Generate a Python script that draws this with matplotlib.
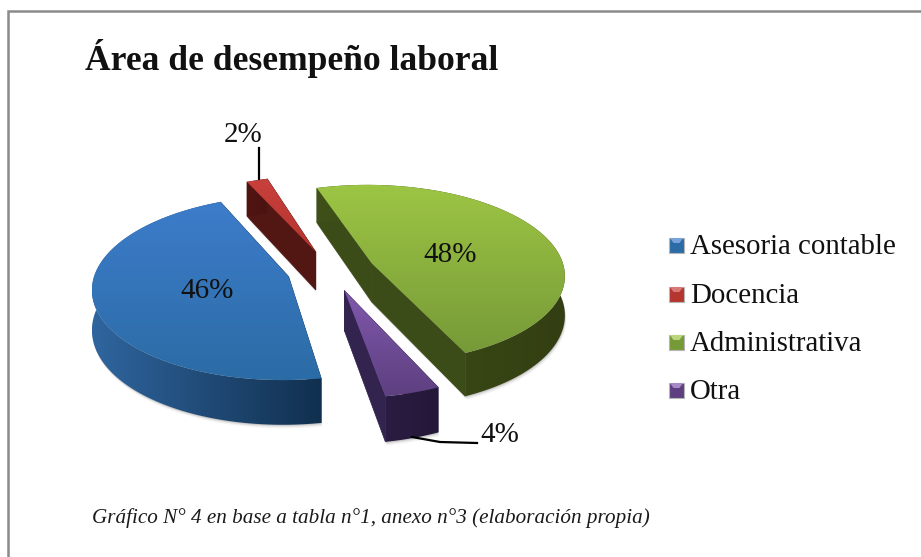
import numpy as np
import matplotlib
matplotlib.use("Agg")
import matplotlib.pyplot as plt
from matplotlib.colors import LinearSegmentedColormap, to_rgb
from matplotlib.patches import Polygon, Rectangle

# datos del grafico
categorias = ["Asesoria contable", "Docencia", "Administrativa", "Otra"]
valores = [46, 2, 48, 4]
titulo = "Área de desempeño laboral"
nota = "Gráfico N° 4 en base a tabla n°1, anexo n°3 (elaboración propia)"

# colores: cara superior (arriba, abajo), pared (izq, der), corte
col_sup = [("#3d7cca", "#2b6ca6"), ("#c8403c", "#b5352f"), ("#9dc544", "#779a38"), ("#8058ad", "#5e4080")]
col_pared = [("#2f659e", "#11304f"), ("#501512", "#4a1310"), ("#3f5119", "#333f12"), ("#2a1c42", "#241838")]
col_corte = ["#1b3c60", "#521613", "#3c4c18", "#33234f"]

# geometria de la proyeccion, en pixeles de la imagen
CX, CY = 331, 270.5
R, KR = 193, 89.5
PERSP = 0.12
EXPL = 0.228
ALTO = 39
INICIO = 170  # grados, sentido horario desde arriba


def proyectar(X, Y, z=0.0):
    s = 1 / (1 - PERSP * np.asarray(Y))
    return np.column_stack([CX + R * s * X, CY + s * (KR * Y + z * ALTO)])


def degradado(ax, forma, c0, c1, zorder, horizontal=False):
    # rellena un poligono con un degradado recortado a su forma
    parche = Polygon(forma, closed=True, fc="none", ec="none", zorder=zorder)
    ax.add_patch(parche)
    cmap = LinearSegmentedColormap.from_list("grad", [c0, c1])
    rampa = np.linspace(0, 1, 64)
    rampa = rampa.reshape(1, -1) if horizontal else rampa.reshape(-1, 1)
    ext = [forma[:, 0].min(), forma[:, 0].max(), forma[:, 1].max(), forma[:, 1].min()]
    im = ax.imshow(rampa, cmap=cmap, extent=ext, aspect="auto", zorder=zorder, interpolation="bilinear")
    im.set_clip_path(parche)


fig = plt.figure(figsize=(9.21, 5.57), dpi=100)
ax = fig.add_axes([0, 0, 1, 1])
ax.set_xlim(0, 921)
ax.set_ylim(557, 0)
ax.axis("off")

# marco gris (solo izquierda y arriba)
ax.plot([8, 8, 921], [557, 11, 11], color="#8a8a8a", lw=1.8, solid_joinstyle="miter", zorder=1)

fracciones = np.array(valores) / sum(valores) * 360
ini = INICIO
for i, v in enumerate(valores):
    fin = ini + fracciones[i]
    medio = np.radians((ini + fin) / 2)
    ex, ey = EXPL * np.sin(medio), -EXPL * np.cos(medio)
    th = np.radians(np.linspace(ini, fin, 120))
    X = ex + np.sin(th)
    Y = ey - np.cos(th)

    arco_sup = proyectar(X, Y)
    arco_inf = proyectar(X, Y, 1.0)
    apex_sup = proyectar(np.array([ex]), np.array([ey]))
    apex_inf = proyectar(np.array([ex]), np.array([ey]), 1.0)

    # sombra suave bajo la porcion
    base = np.vstack([apex_inf, arco_inf])
    for off, a in [(3.5, 0.05), (2.0, 0.08), (1.0, 0.1)]:
        ax.add_patch(Polygon(base + [off * 0.4, off], closed=True, fc="black", ec="none", alpha=a, zorder=2))

    # caras del corte
    for extremo_sup, extremo_inf in [(arco_sup[0], arco_inf[0]), (arco_sup[-1], arco_inf[-1])]:
        cara = np.vstack([apex_sup, [extremo_sup], [extremo_inf], apex_inf])
        ax.add_patch(Polygon(cara, closed=True, fc=col_corte[i], ec=col_corte[i], lw=0.5, zorder=3))

    # pared exterior, oscurece hacia la derecha
    pared = np.vstack([arco_sup, arco_inf[::-1]])
    degradado(ax, pared, col_pared[i][0], col_pared[i][1], 4, horizontal=True)

    # cara superior
    forma = np.vstack([apex_sup, arco_sup])
    degradado(ax, forma, col_sup[i][0], col_sup[i][1], 5)
    ini = fin

ax.set_xlim(0, 921)
ax.set_ylim(557, 0)

fuente = ["Liberation Serif", "DejaVu Serif"]
tinta = "#111111"

ax.text(85, 58, titulo, family=fuente, fontweight="bold", fontsize=25.6, color=tinta, va="center", ha="left", zorder=8)

# etiquetas de porcentaje
pos_etiq = [(207, 291), (243, 134.5), (450, 254.5), (500, 435)]
for v, (x, y) in zip(valores, pos_etiq):
    ax.text(x, y, f"{v}%", family=fuente, fontsize=21, color=tinta, ha="center", va="center", zorder=8)

# lineas guia de 2% y 4%
ax.plot([258.5, 258.5], [148, 179], color="black", lw=1.6, zorder=8)
ax.plot([412, 440, 477], [437, 442, 443], color="black", lw=1.6, zorder=8)

# leyenda
filas_y = [245, 294, 342, 390]
for nombre, y, cols in zip(categorias, filas_y, col_sup):
    ax.add_patch(Rectangle((669, y - 7.5), 15, 15, fc=cols[1], ec="#b5b5b5", lw=0.8, zorder=8))
    claro = np.array(to_rgb(cols[0])) * 0.7 + 0.3
    ax.add_patch(Polygon([(670, y - 7), (683, y - 7), (679.5, y - 2), (673.5, y - 2)], closed=True, fc=claro, ec="none", zorder=9))
    ax.text(690, y + 2, nombre, family=fuente, fontsize=20.8, color=tinta, ha="left", va="center", zorder=8)

ax.text(92, 518, nota, family=fuente, fontstyle="italic", fontsize=15.2, color="#1a1a1a", ha="left", va="center", zorder=8)

fig.savefig("out.png", dpi=100, facecolor="white")
